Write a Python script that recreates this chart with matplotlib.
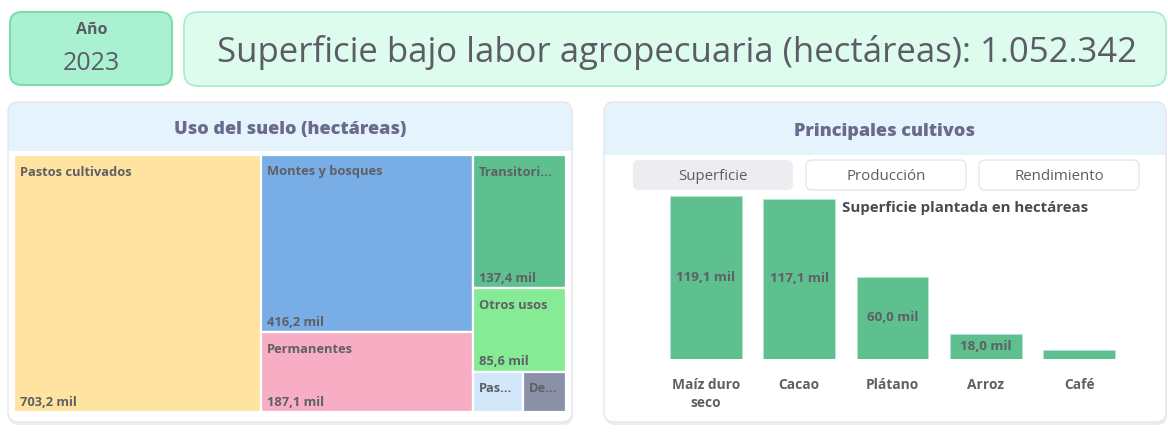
import matplotlib
matplotlib.use("Agg")
import matplotlib.pyplot as plt
from matplotlib.patches import FancyBboxPatch, Rectangle

# ---------------- data ----------------
year = "2023"
total_label = "1.052.342"
land_names = ["Pastos cultivados", "Montes y bosques", "Permanentes", "Transitorios",
              "Otros usos", "Pastos naturales", "Descanso"]
# labels as displayed (truncated in the small cells)
land_labels = ["Pastos cultivados", "Montes y bosques", "Permanentes", "Transitori...",
               "Otros usos", "Pas...", "De..."]
land_values = [703.2, 416.2, 187.1, 137.4, 85.6, 22.4, 19.2]  # miles de ha
land_colors = ["#fee3a1", "#78ade6", "#f7aec4", "#5ebf8f", "#86eb95", "#d3e7fb", "#8b90a9"]
# grouping used by the treemap (columns -> rows -> columns)
land_groups = [["Pastos cultivados"],
               ["Montes y bosques", "Permanentes"],
               ["Transitorios", "Otros usos", ["Pastos naturales", "Descanso"]]]

crops = ["Maíz duro\nseco", "Cacao", "Plátano", "Arroz", "Café"]
crop_values = [119.1, 117.1, 60.0, 18.0, 6.5]  # miles de ha
buttons = ["Superficie", "Producción", "Rendimiento"]

W, H = 1168, 437
plt.rcParams['font.family'] = ['Open Sans', 'DejaVu Sans']
fig = plt.figure(figsize=(W / 100, H / 100), dpi=100)
fig.patch.set_facecolor("white")

bg = fig.add_axes([0, 0, 1, 1])
bg.set_xlim(0, W)
bg.set_ylim(H, 0)
bg.axis("off")


def rbox(x0, y0, x1, y1, fc, ec="none", lw=1.0, r=10, z=1):
    p = FancyBboxPatch((x0 + r, y0 + r), (x1 - x0) - 2 * r, (y1 - y0) - 2 * r,
                       boxstyle=f"round,pad={r}", fc=fc, ec=ec, lw=lw, zorder=z)
    bg.add_patch(p)
    return p


TXT = "#5c5c66"
HDR = "#6a6a8c"
LBL = "#5f5f66"

# year box
rbox(10, 12, 172, 85, "#a9f1d0", "#7ddcab", 1.5, r=12)
bg.text(92, 30, "Año", ha="center", va="center", fontsize=11.5, fontweight="bold", color=TXT)
bg.text(91, 64, year, ha="center", va="center", fontsize=18, color=TXT)

# title box
rbox(184, 12, 1166, 86, "#ddfcee", "#a6eccb", 1.2, r=14)
bg.text(677, 52, f"Superficie bajo labor agropecuaria (hectáreas): {total_label}",
        ha="center", va="center", fontsize=25, color=TXT)


def panel(x0, y0, x1, y1, hb, title):
    rbox(x0 + 1, y0 + 2, x1 + 1, y1 + 3, "#ececf1", r=10, z=0.5)
    rbox(x0, y0, x1, y1, "#e5f3fd", r=10, z=1)
    rbox(x0, hb, x1, y1, "white", r=10, z=1.1)
    bg.add_patch(Rectangle((x0, hb), x1 - x0, 20, fc="white", ec="none", zorder=1.2))
    rbox(x0, y0, x1, y1, "none", "#e6e6ee", 1.0, r=10, z=1.3)
    bg.text((x0 + x1) / 2, (y0 + hb) / 2 + 3, title, ha="center", va="center",
            fontsize=13, fontweight="heavy", color=HDR, zorder=2)


panel(8, 102, 572, 422, 151, "Uso del suelo (hectáreas)")
panel(604, 102, 1166, 422, 155, "Principales cultivos")

# buttons
bx = [633, 806, 979]
for i, (x, lab) in enumerate(zip(bx, buttons)):
    if i == 0:
        rbox(x, 160, x + 160, 190, "#ececf1", r=6, z=2)
    else:
        rbox(x, 160, x + 160, 190, "white", "#e6e6ee", 1.0, r=6, z=2)
    bg.text(x + 80, 176, lab, ha="center", va="center", fontsize=10.8, color=TXT, zorder=3)

# ---------------- treemap ----------------
tx0, ty0, tx1, ty1 = 14, 155, 566, 412
tm = fig.add_axes([tx0 / W, 1 - ty1 / H, (tx1 - tx0) / W, (ty1 - ty0) / H])
tm.set_xlim(0, 1)
tm.set_ylim(1, 0)
tm.axis("off")
val = dict(zip(land_names, land_values))
col = dict(zip(land_names, land_colors))
lbl = dict(zip(land_names, land_labels))


def gsum(g):
    return val[g] if isinstance(g, str) else sum(gsum(s) for s in g)


rects = {}


def layout(groups, x, y, w, h, horizontal):
    tot = sum(gsum(g) for g in groups)
    pos = 0.0
    for g in groups:
        f = gsum(g) / tot
        if horizontal:
            r = (x + pos * w, y, f * w, h)
        else:
            r = (x, y + pos * h, w, f * h)
        pos += f
        if isinstance(g, str):
            rects[g] = r
        else:
            layout(g, *r, not horizontal)


layout(land_groups, 0, 0, 1, 1, True)

axh = (ty1 - ty0)
for name in land_names:
    x, y, w, h = rects[name]
    tm.add_patch(Rectangle((x, y), w, h, fc=col[name], ec="white", lw=1.6))
    tm.annotate(lbl[name], (x, y), xytext=(6, -17), textcoords="offset pixels",
                ha="left", va="center", fontsize=9.3, fontweight="bold", color=LBL)
    if h * axh > 60:
        tm.annotate(f"{val[name]:.1f} mil".replace(".", ","), (x, y + h), xytext=(6, 10),
                    textcoords="offset pixels", ha="left", va="center",
                    fontsize=9.3, fontweight="bold", color=LBL)

# ---------------- bar chart ----------------
bx0, by0, bx1, by1 = 659, 188, 1126, 359
ax = fig.add_axes([bx0 / W, 1 - by1 / H, (bx1 - bx0) / W, (by1 - by0) / H])
ax.set_facecolor("none")
xs = list(range(len(crops)))
ax.bar(xs, crop_values, width=0.77, color="#5ebf8f", edgecolor="#b9e6cf", linewidth=0.6)
ax.set_xlim(-0.5, len(crops) - 0.5)
ax.set_ylim(0, 125)
for s in ax.spines.values():
    s.set_visible(False)
ax.set_yticks([])
ax.set_xticks(xs)
ax.set_xticklabels(crops, fontsize=9.9, fontweight="bold", color=LBL, linespacing=1.4)
ax.tick_params(axis="x", length=0, pad=13.5)
for i, v in enumerate(crop_values):
    if v > 10:
        ax.text(i, v / 2, f"{v:.1f} mil".replace(".", ","), ha="center", va="center",
                fontsize=9.6, fontweight="bold", color=LBL)
bg.set_zorder(0)
tm.set_zorder(1)
ax.set_zorder(2)
fig.text(842 / W, 1 - 208 / H, "Superficie plantada en hectáreas", ha="left", va="center",
         fontsize=10.8, fontweight="bold", color="#4a4a55", zorder=10)

fig.savefig("out.png", dpi=100, facecolor="white")
